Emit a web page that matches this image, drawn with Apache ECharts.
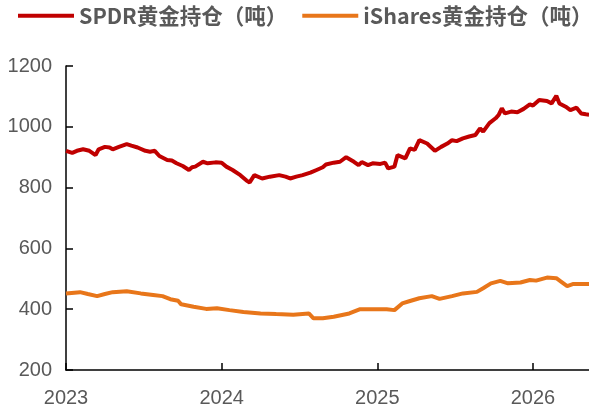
<!DOCTYPE html>
<html><head><meta charset="utf-8">
<script src="https://cdn.jsdelivr.net/npm/echarts@6/dist/echarts.min.js"></script>
<style>html,body{margin:0;padding:0;background:#fff}#c{width:589px;height:410px}</style>
</head><body><div id="c"></div>
<script>
// decimal-year x positions and holdings (tonnes)
const spdrX = [2023.00,2023.04,2023.07,2023.11,2023.15,2023.19,2023.21,2023.25,2023.28,2023.30,2023.34,2023.39,2023.42,2023.46,2023.51,2023.54,2023.57,2023.60,2023.65,2023.68,2023.71,2023.75,2023.79,2023.81,2023.83,2023.88,2023.91,2023.96,2024.00,2024.03,2024.07,2024.12,2024.16,2024.18,2024.21,2024.26,2024.31,2024.37,2024.41,2024.44,2024.48,2024.52,2024.57,2024.61,2024.65,2024.67,2024.72,2024.76,2024.80,2024.85,2024.88,2024.90,2024.94,2024.97,2025.02,2025.05,2025.07,2025.11,2025.13,2025.18,2025.21,2025.24,2025.27,2025.32,2025.37,2025.41,2025.45,2025.48,2025.51,2025.55,2025.59,2025.63,2025.66,2025.68,2025.72,2025.76,2025.78,2025.80,2025.82,2025.86,2025.90,2025.94,2025.98,2026.00,2026.04,2026.09,2026.12,2026.15,2026.17,2026.21,2026.24,2026.28,2026.31,2026.34,2026.36];
const spdrY = [921,914,921,926,921,907,926,934,932,926,934,943,938,932,921,918,921,904,891,889,880,871,858,867,869,885,880,883,882,869,858,841,823,817,841,830,836,841,836,830,836,841,849,858,867,876,882,885,900,885,874,884,874,880,878,882,863,869,907,896,929,924,956,945,921,934,945,956,953,962,968,973,995,984,1012,1028,1039,1061,1044,1050,1048,1059,1074,1070,1088,1085,1077,1102,1077,1066,1055,1063,1044,1041,1040];
const ishX = [2023.00,2023.09,2023.14,2023.20,2023.25,2023.30,2023.39,2023.48,2023.56,2023.62,2023.67,2023.72,2023.74,2023.82,2023.90,2023.97,2024.05,2024.14,2024.25,2024.35,2024.46,2024.56,2024.59,2024.65,2024.72,2024.82,2024.89,2024.97,2025.06,2025.11,2025.16,2025.21,2025.27,2025.35,2025.40,2025.48,2025.55,2025.64,2025.68,2025.73,2025.79,2025.84,2025.92,2025.98,2026.02,2026.09,2026.15,2026.18,2026.22,2026.26,2026.34,2026.36];
const ishY = [452,456,450,443,450,456,459,452,447,443,433,428,416,408,401,403,397,391,386,384,382,386,370,370,375,386,400,400,400,397,419,427,436,443,434,443,452,457,469,485,493,485,488,496,494,504,502,491,476,483,483,483];
const yTicks = [200,400,600,800,1000,1200];
const xYears = [2023,2024,2025,2026];

const pair = (xs, ys) => xs.map((x,i)=>[x, ys[i]]);
const chart = echarts.init(document.getElementById('c'), null, {renderer:'canvas'});
const lblColor = '#595959';
chart.setOption({
  animation:false,
  legend:{
    top:5, left:18, width:700, padding:0, itemWidth:56, itemHeight:4, itemGap:15,
    icon:'rect',
    textStyle:{fontSize:21.5, fontWeight:'bold', color:lblColor, fontFamily:'Noto Sans CJK SC'},
    data:['SPDR黄金持仓（吨）','iShares黄金持仓（吨）']
  },
  grid:{left:66, right:0, top:66, bottom:40},
  xAxis:{
    type:'value', min:2023, max:2026.36, interval:1,
    axisLine:{lineStyle:{color:'#000', width:1.5}},
    axisTick:{inside:true, length:7, lineStyle:{color:'#000', width:1.5}},
    splitLine:{show:false},
    axisLabel:{fontSize:20, color:lblColor, margin:18, fontFamily:'Liberation Sans',
      showMaxLabel:false, formatter:v=>xYears.includes(Math.round(v))?String(Math.round(v)):''}
  },
  yAxis:{
    type:'value', min:yTicks[0], max:yTicks[yTicks.length-1], interval:200,
    axisLine:{show:true, lineStyle:{color:'#000', width:1.5}},
    axisTick:{show:true, inside:true, length:7, lineStyle:{color:'#000', width:1.5}},
    splitLine:{show:false},
    axisLabel:{fontSize:20, color:lblColor, margin:14, fontFamily:'Liberation Sans', formatter:v=>String(v)}
  },
  series:[
    {name:'SPDR黄金持仓（吨）', type:'line', data:pair(spdrX,spdrY), showSymbol:false,
     lineStyle:{color:'#C00000', width:4}, itemStyle:{color:'#C00000'}},
    {name:'iShares黄金持仓（吨）', type:'line', data:pair(ishX,ishY), showSymbol:false,
     lineStyle:{color:'#E8761A', width:4}, itemStyle:{color:'#E8761A'}}
  ]
});
</script></body></html>
